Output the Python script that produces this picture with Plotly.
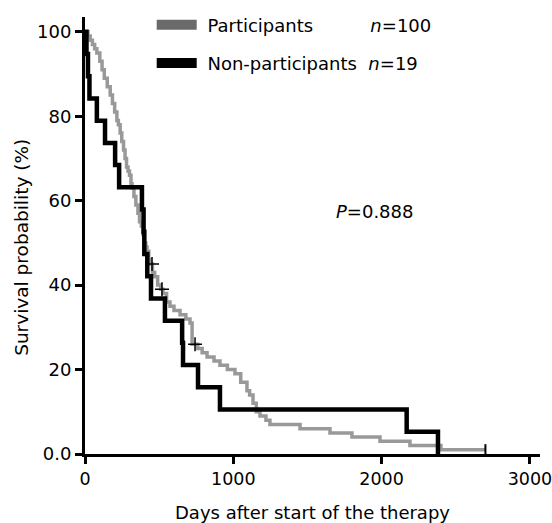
import plotly.graph_objects as go

# Participants (n=100) Kaplan-Meier curve
part_days = [0, 20, 35, 50, 65, 80, 100, 115, 130, 150, 170, 185, 200, 215, 225, 237, 248, 260,
             270, 280, 290, 300, 310, 317, 330, 343, 357, 368, 380, 391, 400, 410, 418, 430, 440,
             455, 470, 490, 510, 526, 550, 573, 600, 641, 680, 708, 722, 760, 790, 823, 870, 910,
             960, 1011, 1050, 1092, 1110, 1133, 1155, 1180, 1220, 1247, 1450, 1652, 1800, 1989,
             2191, 2400, 2700]
part_surv = [100, 99, 98, 97, 96, 95, 93, 91, 89, 87, 85, 83, 81, 79, 78, 76, 74, 72,
             70, 68, 67, 66, 64, 63, 61, 59, 57, 55, 54, 52, 50, 49, 48, 46, 45,
             43, 42, 40, 39, 38, 36, 35, 34, 33, 32, 31, 26, 25, 24, 23, 22, 21,
             20, 19, 17, 15, 14, 12, 10, 9, 8, 7, 6, 5, 4, 3,
             2, 1, 1]

# Non-participants (n=19)
nonpart_days = [0, 10, 20, 30, 80, 135, 203, 230, 384, 395, 400, 420, 445, 539, 655, 661,
                762, 910, 2169, 2380]
nonpart_surv = [100, 94.74, 89.47, 84.21, 78.95, 73.68, 68.42, 63.16, 57.89, 52.63, 47.37,
                42.11, 36.84, 31.58, 26.32, 21.05, 15.79, 10.53, 5.26, 0]

# censored observations on the participants curve
censor_days = [452, 519, 742]
censor_surv = [45, 39, 26]
end_days = [2700]
end_surv = [1]

x_ticks = [0, 1000, 2000, 3000]
y_ticks = [0, 20, 40, 60, 80, 100]
y_ticklabels = ["0.0", "20", "40", "60", "80", "100"]

FONT = "DejaVu Sans"
NB = "\u00a0"

fig = go.Figure()
fig.add_trace(go.Scatter(x=part_days, y=part_surv, mode="lines", line_shape="hv",
                         line=dict(color="#999999", width=3.5), showlegend=False))
fig.add_trace(go.Scatter(x=nonpart_days, y=nonpart_surv, mode="lines", line_shape="hv",
                         line=dict(color="black", width=4.5), showlegend=False))
fig.add_trace(go.Scatter(x=censor_days, y=censor_surv, mode="markers",
                         marker=dict(symbol="cross-thin", size=10, line=dict(color="black", width=1.5)),
                         showlegend=False))
fig.add_trace(go.Scatter(x=end_days, y=end_surv, mode="markers",
                         marker=dict(symbol="line-ns", size=8, line=dict(color="black", width=2)),
                         showlegend=False))

# legend entries
fig.add_trace(go.Scatter(x=[None], y=[None], mode="lines",
                         line=dict(color="#6a6a6a", width=10),
                         name=NB + "Participants" + NB * 10 + "<i>n</i>=100", legendgroup="p"))
fig.add_trace(go.Scatter(x=[None], y=[None], mode="lines",
                         line=dict(color="black", width=10),
                         name=NB + "Non-participants" + NB * 2 + "<i>n</i>=19", legendgroup="n"))

fig.add_annotation(x=1955, y=57.5, xref="x", yref="y", text="<i>P</i>=0.888",
                   showarrow=False, font=dict(family=FONT, size=18, color="black"))

# y-axis title (placed slightly below the plot centre, as in the reference)
fig.add_annotation(x=-0.1385, y=0.474, xref="paper", yref="paper", text="Survival probability (%)",
                   textangle=-90, showarrow=False, xanchor="center", yanchor="middle",
                   font=dict(family=FONT, size=18.5, color="black"))

fig.update_layout(
    template="none",
    width=552, height=523,
    margin=dict(l=85, r=12, t=17, b=69, autoexpand=False),
    paper_bgcolor="white", plot_bgcolor="white",
    font=dict(family=FONT, size=18, color="black"),
    legend=dict(x=0.1466, y=1.024, xanchor="left", yanchor="top", bgcolor="rgba(0,0,0,0)",
                traceorder="grouped", tracegroupgap=12, itemwidth=40,
                font=dict(family=FONT, size=18, color="black")),
    xaxis=dict(range=[0, 3068], tickvals=x_ticks, ticks="outside", ticklen=7, tickwidth=2.5,
               tickcolor="black", showline=True, linecolor="black", linewidth=3,
               showgrid=False, zeroline=False, automargin=False, ticklabeloverflow="allow",
               tickfont=dict(family=FONT, size=17.5),
               title=dict(text="Days after start of the therapy", standoff=20,
                          font=dict(family=FONT, size=18))),
    yaxis=dict(range=[0, 103.5], tickvals=y_ticks, ticktext=y_ticklabels, ticks="outside",
               ticklen=7, tickwidth=2.5, tickcolor="black", showline=True, linecolor="black",
               linewidth=3, showgrid=False, zeroline=False, automargin=False,
               tickfont=dict(family=FONT, size=18)),
)

# remove the default page margin so the figure fills the window exactly
fig.write_html("out.html", config={"displayModeBar": False},
               post_script="document.body.style.margin='0px';")
